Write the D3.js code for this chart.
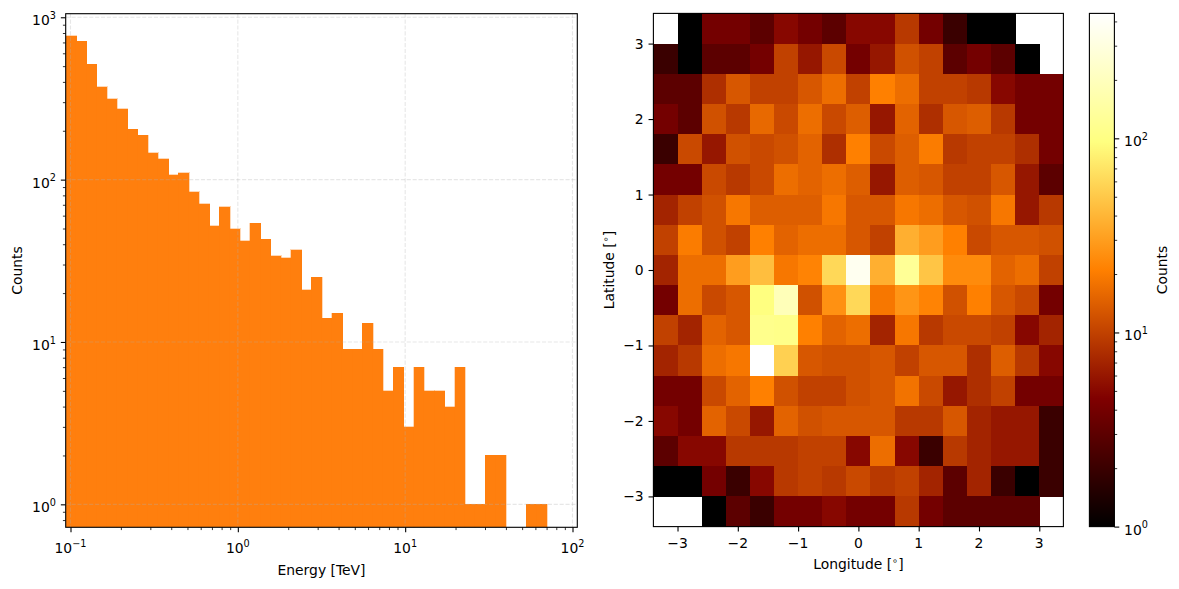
<!DOCTYPE html>
<html><head><meta charset="utf-8">
<script src="https://cdn.jsdelivr.net/npm/d3@7"></script>
<style>
body{margin:0;background:#fff}
text{font-family:"DejaVu Sans",sans-serif;font-size:13.9px;fill:#000}
</style>
</head><body>
<svg id="c" width="1179" height="589"></svg>
<script>
// ---------------- DATA ----------------
// Energy histogram: counts per log-spaced bin (first 47 of 50 bins spanning the energy range)
const energyCounts = [767, 714, 515, 372, 314, 274, 205, 188, 146, 134, 107, 110, 84, 71, 52, 68, 50, 42, 54, 43,
  34, 33, 37, 21, 25, 14, 15, 9, 9, 13, 9, 5, 7, 3, 7, 5, 5, 4, 7, 1, 1, 2, 2, 0, 0, 1, 1];
const energyDomain = [0.09361, 106.83];   // TeV, bin range
const nEnergyBins = 50;
const countDomain = [0.722, 1052];
const energyMajorTicks = [0.1, 1, 10, 100];
const energyTickLabels = [["10","−1"],["10","0"],["10","1"],["10","2"]];
const countMajorTicks = [1, 10, 100, 1000];
const countTickLabels = [["10","0"],["10","1"],["10","2"],["10","3"]];

// Sky map: 17 x 17 counts, rows from top (lat 3.4) to bottom (lat -3.4), cols from lon -3.4 to 3.4
const lonEdges = [-3.4,-3.0,-2.6,-2.2,-1.8,-1.4,-1.0,-0.6,-0.2,0.2,0.6,1.0,1.4,1.8,2.2,2.6,3.0,3.4];
const latEdges = [3.4,3.0,2.6,2.2,1.8,1.4,1.0,0.6,0.2,-0.2,-0.6,-1.0,-1.4,-1.8,-2.2,-2.6,-3.0,-3.4];
const skyCounts = [
  [0,1,4,4,3,5,4,3,5,5,9,4,2,1,1,0,0],
  [2,1,3,3,4,10,6,11,4,6,12,10,3,4,3,1,0],
  [3,3,8,13,10,10,13,17,10,21,17,10,10,9,5,4,4],
  [4,3,12,9,16,11,17,11,14,6,15,8,13,14,9,4,4],
  [2,11,6,12,11,12,15,8,21,11,14,20,9,10,10,8,4],
  [4,4,11,9,11,17,15,17,14,6,14,13,10,10,13,6,3],
  [7,10,12,19,14,14,14,19,13,13,19,17,13,12,19,6,9],
  [10,20,12,10,21,15,17,17,13,10,37,30,21,11,13,13,12],
  [7,17,17,30,44,19,22,60,369,37,126,48,24,24,15,17,10],
  [4,17,11,13,97,190,12,26,60,19,27,22,12,21,13,11,4],
  [10,7,15,13,112,108,21,15,17,7,19,9,11,11,10,5,7],
  [7,9,17,19,440,55,13,12,12,13,10,13,13,8,14,9,5],
  [4,4,11,15,21,12,10,10,12,13,18,11,6,8,10,4,4],
  [5,4,15,11,6,15,12,13,13,13,9,9,13,7,6,6,2],
  [3,5,5,9,9,9,10,10,5,17,5,2,9,7,6,6,2],
  [1,1,4,2,5,9,10,9,11,9,10,7,3,7,2,1,2],
  [0,0,1,3,2,4,4,5,4,4,9,4,3,3,3,3,0]
];
const skyTicks = [-3,-2,-1,0,1,2,3];
const skyTickLabels = ["−3","−2","−1","0","1","2","3"];
const cbarTicks = [1, 10, 100];
const cbarTickLabels = [["10","0"],["10","1"],["10","2"]];

// ---------------- DRAW ----------------
const svg = d3.select("#c");
const MAJ = 4.86, MIN = 2.78, PAD = 4.86;
const BAR = "#ff7f0e";

function supText(g, x, y, anchor, base, exp) {
  const t = g.append("text").attr("x", x).attr("y", y).attr("text-anchor", anchor);
  t.append("tspan").text(base);
  t.append("tspan").attr("dy", -6.3).style("font-size", "9.7px").text(exp);
  return t;
}
function minorLog(domain) {
  const out = [];
  const lo = Math.floor(Math.log10(domain[0])), hi = Math.ceil(Math.log10(domain[1]));
  for (let d = lo; d <= hi; d++) for (let m = 2; m <= 9; m++) {
    const v = m * Math.pow(10, d);
    if (v >= domain[0] && v <= domain[1]) out.push(v);
  }
  return out;
}

// ---- Left: energy histogram ----
const L = {x0: 65.7, x1: 577.3, y0: 13.7, y1: 527.3};
const xE = d3.scaleLog().domain(energyDomain).range([L.x0, L.x1]);
const yE = d3.scaleLog().domain(countDomain).range([L.y1, L.y0]);
const lo = Math.log10(energyDomain[0]), hi = Math.log10(energyDomain[1]);
const step = (hi - lo) / nEnergyBins;
const edges = d3.range(nEnergyBins + 1).map(k => Math.pow(10, lo + k * step));

svg.append("defs").append("clipPath").attr("id", "clipL")
  .append("rect").attr("x", L.x0).attr("y", L.y0).attr("width", L.x1 - L.x0).attr("height", L.y1 - L.y0);

const gL = svg.append("g");
gL.append("g").attr("clip-path", "url(#clipL)").attr("shape-rendering", "crispEdges").selectAll("rect")
  .data(energyCounts.map((c, i) => ({c, a: edges[i], b: edges[i + 1]})).filter(d => d.c > 0))
  .join("rect")
  .attr("x", d => xE(d.a)).attr("width", d => xE(d.b) - xE(d.a) + 0.6)
  .attr("y", d => yE(d.c)).attr("height", d => L.y1 - yE(d.c))
  .attr("fill", BAR).attr("stroke", BAR).attr("stroke-width", 0.3);

// grid (above bars, matplotlib default)
const grid = gL.append("g").attr("clip-path", "url(#clipL)")
  .attr("stroke", "#b0b0b0").attr("stroke-opacity", 0.3).attr("stroke-width", 1.1)
  .attr("stroke-dasharray", "4.1,1.78");
energyMajorTicks.forEach(v => grid.append("line").attr("x1", xE(v)).attr("x2", xE(v)).attr("y1", L.y0).attr("y2", L.y1));
countMajorTicks.forEach(v => grid.append("line").attr("y1", yE(v)).attr("y2", yE(v)).attr("x1", L.x0).attr("x2", L.x1));

// axes
const axB = gL.append("g").attr("transform", `translate(0,${L.y1})`)
  .call(d3.axisBottom(xE).tickValues(energyMajorTicks).tickSize(MAJ).tickSizeOuter(0).tickFormat(""));
const axBm = gL.append("g").attr("transform", `translate(0,${L.y1})`)
  .call(d3.axisBottom(xE).tickValues(minorLog(energyDomain)).tickSize(MIN).tickSizeOuter(0).tickFormat(""));
const axLf = gL.append("g").attr("transform", `translate(${L.x0},0)`)
  .call(d3.axisLeft(yE).tickValues(countMajorTicks).tickSize(MAJ).tickSizeOuter(0).tickFormat(""));
const axLm = gL.append("g").attr("transform", `translate(${L.x0},0)`)
  .call(d3.axisLeft(yE).tickValues(minorLog(countDomain)).tickSize(MIN).tickSizeOuter(0).tickFormat(""));
[axBm, axLm].forEach(a => a.selectAll("line").attr("stroke-width", 0.8));
[axB, axLf].forEach(a => a.selectAll("line").attr("stroke-width", 1.1));
[axB, axBm, axLf, axLm].forEach(a => a.select(".domain").remove());

energyMajorTicks.forEach((v, i) => supText(gL, xE(v), 553, "middle", energyTickLabels[i][0], energyTickLabels[i][1]));
countMajorTicks.forEach((v, i) => supText(gL, L.x0 - MAJ - PAD, yE(v) + 8, "end", countTickLabels[i][0], countTickLabels[i][1]));

gL.append("rect").attr("x", L.x0).attr("y", L.y0).attr("width", L.x1 - L.x0).attr("height", L.y1 - L.y0)
  .attr("fill", "none").attr("stroke", "#000").attr("stroke-width", 1.1);
gL.append("text").attr("x", (L.x0 + L.x1) / 2).attr("y", 575).attr("text-anchor", "middle").text("Energy [TeV]");
gL.append("text").attr("transform", `translate(21.7,${(L.y0 + L.y1) / 2}) rotate(-90)`).attr("text-anchor", "middle").text("Counts");

// ---- Right: sky map ----
const R = {x0: 653.4, x1: 1063.4, y0: 13.4, y1: 526.6};
const xS = d3.scaleLinear().domain([lonEdges[0], lonEdges[lonEdges.length - 1]]).range([R.x0, R.x1]);
const yS = d3.scaleLinear().domain([latEdges[latEdges.length - 1], latEdges[0]]).range([R.y1, R.y0]);
const vmax = d3.max(skyCounts.flat());
const tNorm = d3.scaleLog().domain([1, vmax]).range([0, 1]).clamp(true);
const cl = v => Math.max(0, Math.min(1, v));
function afmhot(t) {
  return d3.rgb(255 * cl(2 * t), 255 * cl(2 * t - 0.5), 255 * cl(2 * t - 1)) + "";
}
const cells = [];
skyCounts.forEach((row, r) => row.forEach((v, c) => cells.push({r, c, v})));
const gR = svg.append("g");
gR.append("g").attr("shape-rendering", "crispEdges").selectAll("rect")
  .data(cells.filter(d => d.v > 0)).join("rect")
  .attr("x", d => xS(lonEdges[d.c])).attr("width", d => xS(lonEdges[d.c + 1]) - xS(lonEdges[d.c]) + 0.4)
  .attr("y", d => yS(latEdges[d.r])).attr("height", d => yS(latEdges[d.r + 1]) - yS(latEdges[d.r]) + 0.4)
  .attr("fill", d => afmhot(tNorm(d.v)));

const axSB = gR.append("g").attr("transform", `translate(0,${R.y1})`)
  .call(d3.axisBottom(xS).tickValues(skyTicks).tickSize(MAJ).tickSizeOuter(0).tickFormat(""));
const axSL = gR.append("g").attr("transform", `translate(${R.x0},0)`)
  .call(d3.axisLeft(yS).tickValues(skyTicks).tickSize(MAJ).tickSizeOuter(0).tickFormat(""));
[axSB, axSL].forEach(a => { a.select(".domain").remove(); a.selectAll("line").attr("stroke-width", 1.1); });
skyTicks.forEach((v, i) => {
  gR.append("text").attr("x", xS(v)).attr("y", 548).attr("text-anchor", "middle").text(skyTickLabels[i]);
  gR.append("text").attr("x", R.x0 - MAJ - PAD).attr("y", yS(v) + 5).attr("text-anchor", "end").text(skyTickLabels[i]);
});
gR.append("rect").attr("x", R.x0).attr("y", R.y0).attr("width", R.x1 - R.x0).attr("height", R.y1 - R.y0)
  .attr("fill", "none").attr("stroke", "#000").attr("stroke-width", 1.1);
const lonT = gR.append("text").attr("x", (R.x0 + R.x1) / 2).attr("y", 569).attr("text-anchor", "middle");
lonT.append("tspan").text("Longitude [");
lonT.append("tspan").attr("dy", -5).style("font-size", "9.7px").text("∘");
lonT.append("tspan").attr("dy", 5).text("]");
const latT = gR.append("text").attr("transform", `translate(613.5,${(R.y0 + R.y1) / 2}) rotate(-90)`).attr("text-anchor", "middle");
latT.append("tspan").text("Latitude [");
latT.append("tspan").attr("dy", -5).style("font-size", "9.7px").text("∘");
latT.append("tspan").attr("dy", 5).text("]");

// ---- Colorbar ----
const C = {x0: 1089.4, x1: 1114.4, y0: 13.4, y1: 526.6};
const yC = d3.scaleLog().domain([1, vmax]).range([C.y1, C.y0]);
const grad = svg.select("defs").append("linearGradient").attr("id", "cg")
  .attr("x1", 0).attr("y1", 1).attr("x2", 0).attr("y2", 0);
[0, 0.25, 0.5, 0.75, 1].forEach(t => grad.append("stop").attr("offset", t).attr("stop-color", afmhot(t)));
const gC = svg.append("g");
gC.append("rect").attr("x", C.x0).attr("y", C.y0).attr("width", C.x1 - C.x0).attr("height", C.y1 - C.y0)
  .attr("fill", "url(#cg)");
const axC = gC.append("g").attr("transform", `translate(${C.x1},0)`)
  .call(d3.axisRight(yC).tickValues(cbarTicks).tickSize(MAJ).tickSizeOuter(0).tickFormat(""));
const axCm = gC.append("g").attr("transform", `translate(${C.x1},0)`)
  .call(d3.axisRight(yC).tickValues(minorLog([1, vmax])).tickSize(MIN).tickSizeOuter(0).tickFormat(""));
[axC, axCm].forEach(a => a.select(".domain").remove());
axC.selectAll("line").attr("stroke-width", 1.1);
axCm.selectAll("line").attr("stroke-width", 0.8);
cbarTicks.forEach((v, i) => supText(gC, C.x1 + MAJ + PAD, yC(v) + 8, "start", cbarTickLabels[i][0], cbarTickLabels[i][1]));
gC.append("rect").attr("x", C.x0).attr("y", C.y0).attr("width", C.x1 - C.x0).attr("height", C.y1 - C.y0)
  .attr("fill", "none").attr("stroke", "#000").attr("stroke-width", 1.1);
gC.append("text").attr("transform", `translate(1166.5,${(C.y0 + C.y1) / 2}) rotate(-90)`).attr("text-anchor", "middle").text("Counts");
</script>
</body></html>
